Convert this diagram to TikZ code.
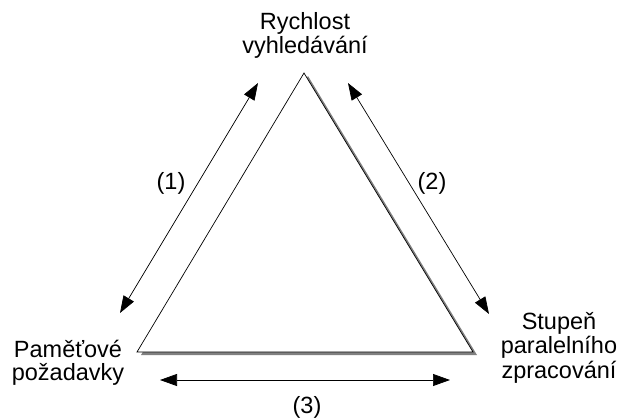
\documentclass[tikz,border=0pt]{standalone}
\usepackage{fontspec}
\setmainfont{Liberation Sans}
\usetikzlibrary{arrows.meta}
\begin{document}
\begin{tikzpicture}[x=1pt,y=-1pt,
  lbl/.style={font=\fontsize{23.5}{23}\selectfont, align=center, inner sep=0pt},
  dbl/.style={line width=0.7pt, {Triangle[length=17pt,width=12pt]}-{Triangle[length=17pt,width=12pt]}},
  tri/.style={draw=black, line width=0.7pt, fill=white, line join=miter}]
\useasboundingbox (0,0) rectangle (622,418);
% triangle corners
\coordinate (A) at (304,73);
\coordinate (B) at (137,352);
\coordinate (C) at (473,352);
\fill[black!50] ([shift={(4,3)}]A) -- ([shift={(4,3)}]B) -- ([shift={(4,3)}]C) -- cycle;
\draw[tri] (A) -- (B) -- (C) -- cycle;
% arrows
\coordinate (a1) at (120,313);
\coordinate (a2) at (258,83);
\coordinate (b1) at (348,83);
\coordinate (b2) at (489,314);
\coordinate (c1) at (160,380);
\coordinate (c2) at (450,380);
\draw[dbl] (a1) -- (a2);
\draw[dbl] (b1) -- (b2);
\draw[dbl] (c1) -- (c2);
% labels
\node[lbl, font=\fontsize{23.5}{21.5}\selectfont, anchor=base] (top) at (305,53) {Rychlost\\vyhledávání};
\node[lbl, font=\fontsize{23.5}{23}\selectfont, anchor=base] (left) at (68,380) {Paměťové\\požadavky};
\node[lbl, font=\fontsize{23.5}{24.5}\selectfont, anchor=base] (right) at (559,378) {Stupeň\\paralelního\\zpracování};
\node[lbl, anchor=center] (l1) at (171,183) {(1)};
\node[lbl, anchor=center] (l2) at (432,183) {(2)};
\node[lbl, anchor=center] (l3) at (307,407) {(3)};
\end{tikzpicture}
\end{document}
